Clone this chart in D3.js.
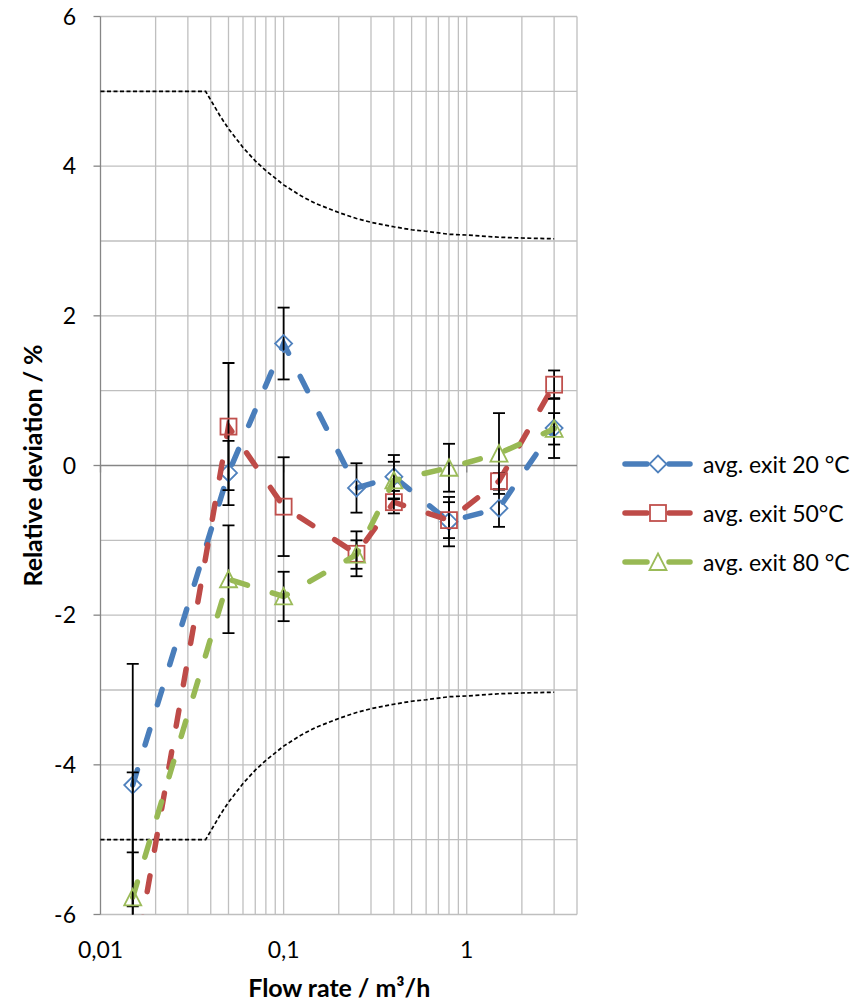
<!DOCTYPE html>
<html>
<head>
<meta charset="utf-8">
<script src="https://cdn.jsdelivr.net/npm/d3@7"></script>
<style>
  html, body { margin: 0; padding: 0; background: #fff; }
  svg { display: block; }
  text { font-family: Lato, "Open Sans", sans-serif; fill: #000; }
</style>
</head>
<body>
<svg id="chart" width="868" height="1003"></svg>
<script>
// ---- data ----
const flow = [0.015, 0.05, 0.1, 0.25, 0.4, 0.8, 1.5, 3];

const dev20 = [-4.27, -0.10, 1.63, -0.30, -0.15, -0.75, -0.57, 0.50];
const err20 = [1.62, 0.43, 0.48, 0.33, 0.29, 0.33, 0.25, 0.40];

const dev50 = [-6.80, 0.52, -0.55, -1.18, -0.49, -0.73, -0.21, 1.08];
const err50 = [2.70, 0.85, 0.66, 0.30, 0.15, 0.24, 0.11, 0.19];

const dev80 = [-5.77, -1.52, -1.75, -1.19, -0.20, -0.03, 0.16, 0.49];
const err80 = [0.60, 0.72, 0.33, 0.19, 0.25, 0.32, 0.54, 0.21];

const limitFlow  = [0.01, 0.0375, 0.045, 0.05, 0.06, 0.07, 0.08, 0.1, 0.125, 0.15, 0.2, 0.25, 0.3, 0.4, 0.5, 0.6, 0.8, 1, 1.5, 2, 3];
const limitUpper = [5, 5, 4.67, 4.5, 4.25, 4.07, 3.94, 3.75, 3.6, 3.5, 3.38, 3.3, 3.25, 3.19, 3.15, 3.13, 3.09, 3.08, 3.05, 3.04, 3.03];
const limitLower = [-5, -5, -4.67, -4.5, -4.25, -4.07, -3.94, -3.75, -3.6, -3.5, -3.38, -3.3, -3.25, -3.19, -3.15, -3.13, -3.09, -3.08, -3.05, -3.04, -3.03];

const xTickValues = [0.01, 0.1, 1];
const xTickLabels = ["0,01", "0,1", "1"];
const xGridValues = [0.02,0.03,0.04,0.05,0.06,0.07,0.08,0.09,0.1,0.2,0.3,0.4,0.5,0.6,0.7,0.8,0.9,1,2,3,4];
const yTickValues = [-6, -4, -2, 0, 2, 4, 6];
const yGridValues = [-5, -4, -3, -2, -1, 1, 2, 3, 4, 5, 6];

const seriesNames = ["avg. exit 20 °C", "avg. exit 50°C", "avg. exit 80 °C"];
const xTitle = "Flow rate / m³/h";
const yTitle = "Relative deviation / %";

// ---- layout ----
const svg = d3.select("#chart");
const L = 100.5, R = 577, T = 16.5, B = 914.5;
const x = d3.scaleLog().domain([0.01, 4]).range([L, R]);
const y = d3.scaleLinear().domain([-6, 6]).range([B, T]);

const colors = ["#4A7EBB", "#BE4B48", "#98B954"];
const markerColors = ["#4F81BD", "#C0504D", "#9BBB59"];
const shapes = ["diamond", "square", "triangle"];

svg.append("defs").append("clipPath").attr("id", "plotclip")
  .append("rect").attr("x", L).attr("y", T).attr("width", R - L).attr("height", B - T);

// gridlines
const grid = svg.append("g");
grid.selectAll("line.v").data(xGridValues).enter().append("line")
  .attr("x1", d => x(d)).attr("x2", d => x(d)).attr("y1", T).attr("y2", B)
  .attr("stroke", "#BFBFBF").attr("stroke-width", 1.3);
grid.selectAll("line.h").data(yGridValues.concat([-6])).enter().append("line")
  .attr("x1", L).attr("x2", R).attr("y1", d => y(d)).attr("y2", d => y(d))
  .attr("stroke", "#BFBFBF").attr("stroke-width", 1.3);

// left axis
svg.append("line").attr("x1", L).attr("x2", L).attr("y1", T).attr("y2", B)
  .attr("stroke", "#868686").attr("stroke-width", 1.3);
svg.selectAll("line.yt").data(yTickValues).enter().append("line")
  .attr("x1", L - 7).attr("x2", L).attr("y1", d => y(d)).attr("y2", d => y(d))
  .attr("stroke", "#868686").attr("stroke-width", 1.3);
svg.selectAll("text.yl").data(yTickValues).enter().append("text")
  .attr("x", 76).attr("y", d => y(d) + 8)
  .attr("text-anchor", "end").attr("font-size", 23)
  .text(d => String(d));

// horizontal axis at 0
svg.append("line").attr("x1", L).attr("x2", R).attr("y1", y(0)).attr("y2", y(0))
  .attr("stroke", "#868686").attr("stroke-width", 1.5);
svg.selectAll("line.xt").data(xTickValues).enter().append("line")
  .attr("x1", d => x(d)).attr("x2", d => x(d)).attr("y1", y(0)).attr("y2", y(0) + 7)
  .attr("stroke", "#868686").attr("stroke-width", 1.3);
svg.selectAll("text.xl").data(xTickValues).enter().append("text")
  .attr("x", d => x(d)).attr("y", 958)
  .attr("text-anchor", "middle").attr("font-size", 23)
  .text((d, i) => xTickLabels[i]);

// titles
svg.append("text").attr("x", (L + R) / 2 + 0.5).attr("y", 997)
  .attr("text-anchor", "middle").attr("font-size", 25).attr("font-weight", "bold")
  .attr("textLength", 182).attr("lengthAdjust", "spacing")
  .text(xTitle);
svg.append("text").attr("transform", `translate(42,${(T + B) / 2}) rotate(-90)`)
  .attr("text-anchor", "middle").attr("font-size", 25).attr("font-weight", "bold")
  .attr("textLength", 242).attr("lengthAdjust", "spacing")
  .text(yTitle);

// limit curves
const limLine = d3.line().x(d => x(d[0])).y(d => y(d[1]));
[limitUpper, limitLower].forEach(arr => {
  svg.append("path").datum(limitFlow.map((f, i) => [f, arr[i]]))
    .attr("d", limLine).attr("fill", "none")
    .attr("stroke", "#000").attr("stroke-width", 1.7).attr("stroke-dasharray", "4 2.5");
});

// marker drawer
function drawMarker(g, shape, cx, cy, color) {
  if (shape === "diamond") {
    g.append("path").attr("d", `M${cx},${cy - 8.5}L${cx + 8.5},${cy}L${cx},${cy + 8.5}L${cx - 8.5},${cy}Z`)
      .attr("fill", "none").attr("stroke", color).attr("stroke-width", 1.8);
  } else if (shape === "square") {
    g.append("rect").attr("x", cx - 8).attr("y", cy - 8).attr("width", 16).attr("height", 16)
      .attr("fill", "none").attr("stroke", color).attr("stroke-width", 1.8);
  } else {
    g.append("path").attr("d", `M${cx},${cy - 8.5}L${cx + 8.5},${cy + 8}L${cx - 8.5},${cy + 8}Z`)
      .attr("fill", "none").attr("stroke", color).attr("stroke-width", 1.8);
  }
}

// series
const allDev = [dev20, dev50, dev80];
const allErr = [err20, err50, err80];
const plot = svg.append("g").attr("clip-path", "url(#plotclip)");
const sLine = d3.line().x(d => x(d[0])).y(d => y(d[1]));

allDev.forEach((dev, s) => {
  const pts = flow.map((f, i) => [f, dev[i]]);
  const g = plot.append("g");
  g.append("path").datum(pts).attr("d", sLine).attr("fill", "none")
    .attr("stroke", colors[s]).attr("stroke-width", 5.5)
    .attr("stroke-linecap", "round").attr("stroke-dasharray", "16 26");
  // error bars
  flow.forEach((f, i) => {
    const cx = x(f), top = y(dev[i] + allErr[s][i]), bot = y(dev[i] - allErr[s][i]);
    g.append("line").attr("x1", cx).attr("x2", cx).attr("y1", top).attr("y2", bot)
      .attr("stroke", "#000").attr("stroke-width", 1.8);
    [top, bot].forEach(yy => g.append("line")
      .attr("x1", cx - 6).attr("x2", cx + 6).attr("y1", yy).attr("y2", yy)
      .attr("stroke", "#000").attr("stroke-width", 1.8));
  });
  flow.forEach((f, i) => drawMarker(g, shapes[s], x(f), y(dev[i]), markerColors[s]));
});

// legend
const legY = [464, 513, 562];
seriesNames.forEach((name, s) => {
  const g = svg.append("g");
  const ly = legY[s];
  [[625, 647], [669, 690]].forEach(seg => g.append("line")
    .attr("x1", seg[0]).attr("x2", seg[1]).attr("y1", ly).attr("y2", ly)
    .attr("stroke", colors[s]).attr("stroke-width", 5.5).attr("stroke-linecap", "round"));
  drawMarker(g, shapes[s], 658, ly, markerColors[s]);
  g.append("text").attr("x", 703).attr("y", ly + 8.5).attr("font-size", 23).text(name);
});
</script>
</body>
</html>
